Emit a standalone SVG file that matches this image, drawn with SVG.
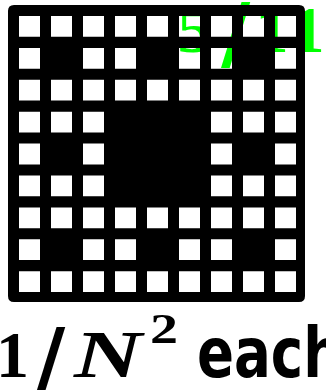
<svg xmlns="http://www.w3.org/2000/svg" width="326" height="390" viewBox="0 0 326 390">
<style>
.green { fill:#00ff00; }
.ink { fill:#000; }
.digit { font-family:"Liberation Serif","DejaVu Serif",serif; font-weight:bold; font-size:66px; }
.slash { font-family:"DejaVu Sans",sans-serif; font-weight:bold; font-size:80px; }
.var { font-family:"Liberation Serif","DejaVu Serif",serif; font-weight:bold; font-style:italic; font-size:68px; }
.sup { font-family:"Liberation Serif","DejaVu Serif",serif; font-weight:bold; font-size:42px; }
.word { font-family:"DejaVu Sans",sans-serif; font-weight:bold; font-size:70px; }
.carpet { fill:#000; fill-rule:evenodd; }
</style>
<rect width="326" height="390" fill="#fff"/>
<g id="top-label">
  <text class="digit green" x="177" y="52" textLength="36" lengthAdjust="spacingAndGlyphs">5</text>
  <text class="slash green" x="221" y="61">/</text>
  <text class="digit green" x="255.6" y="52">1</text>
  <text class="digit green" x="291.6" y="52">1</text>
</g>
<g id="carpet">
<path class="carpet" d="M14 5H299Q305 5 305 11V296Q305 302 299 302H14Q8 302 8 296V11Q8 5 14 5Z
M19 16h21v20.8h-21z M51 16h21v20.8h-21z M83 16h21v20.8h-21z M115 16h21v20.8h-21z M147 16h21v20.8h-21z M179 16h21v20.8h-21z M211 16h21v20.8h-21z M243 16h21v20.8h-21z M275 16h21v20.8h-21z
M19 47.9h21v20.8h-21z M83 47.9h21v20.8h-21z M115 47.9h21v20.8h-21z M179 47.9h21v20.8h-21z M211 47.9h21v20.8h-21z M275 47.9h21v20.8h-21z
M19 79.8h21v20.8h-21z M51 79.8h21v20.8h-21z M83 79.8h21v20.8h-21z M115 79.8h21v20.8h-21z M147 79.8h21v20.8h-21z M179 79.8h21v20.8h-21z M211 79.8h21v20.8h-21z M243 79.8h21v20.8h-21z M275 79.8h21v20.8h-21z
M19 111.7h21v20.8h-21z M51 111.7h21v20.8h-21z M83 111.7h21v20.8h-21z M211 111.7h21v20.8h-21z M243 111.7h21v20.8h-21z M275 111.7h21v20.8h-21z
M19 143.6h21v20.8h-21z M83 143.6h21v20.8h-21z M211 143.6h21v20.8h-21z M275 143.6h21v20.8h-21z
M19 175.5h21v20.8h-21z M51 175.5h21v20.8h-21z M83 175.5h21v20.8h-21z M211 175.5h21v20.8h-21z M243 175.5h21v20.8h-21z M275 175.5h21v20.8h-21z
M19 207.4h21v20.8h-21z M51 207.4h21v20.8h-21z M83 207.4h21v20.8h-21z M115 207.4h21v20.8h-21z M147 207.4h21v20.8h-21z M179 207.4h21v20.8h-21z M211 207.4h21v20.8h-21z M243 207.4h21v20.8h-21z M275 207.4h21v20.8h-21z
M19 239.3h21v20.8h-21z M83 239.3h21v20.8h-21z M115 239.3h21v20.8h-21z M179 239.3h21v20.8h-21z M211 239.3h21v20.8h-21z M275 239.3h21v20.8h-21z
M19 271.2h21v20.8h-21z M51 271.2h21v20.8h-21z M83 271.2h21v20.8h-21z M115 271.2h21v20.8h-21z M147 271.2h21v20.8h-21z M179 271.2h21v20.8h-21z M211 271.2h21v20.8h-21z M243 271.2h21v20.8h-21z M275 271.2h21v20.8h-21z"/>
</g>
<g id="caption">
  <text class="digit ink" x="-4" y="377">1</text>
  <text class="slash ink" x="36" y="386">/</text>
  <text class="var ink" x="74" y="377" textLength="68" lengthAdjust="spacingAndGlyphs">N</text>
  <text class="sup ink" x="150" y="343" textLength="28" lengthAdjust="spacingAndGlyphs">2</text>
  <text class="word ink" transform="translate(197 377) scale(0.78 1)">each</text>
</g>
</svg>
